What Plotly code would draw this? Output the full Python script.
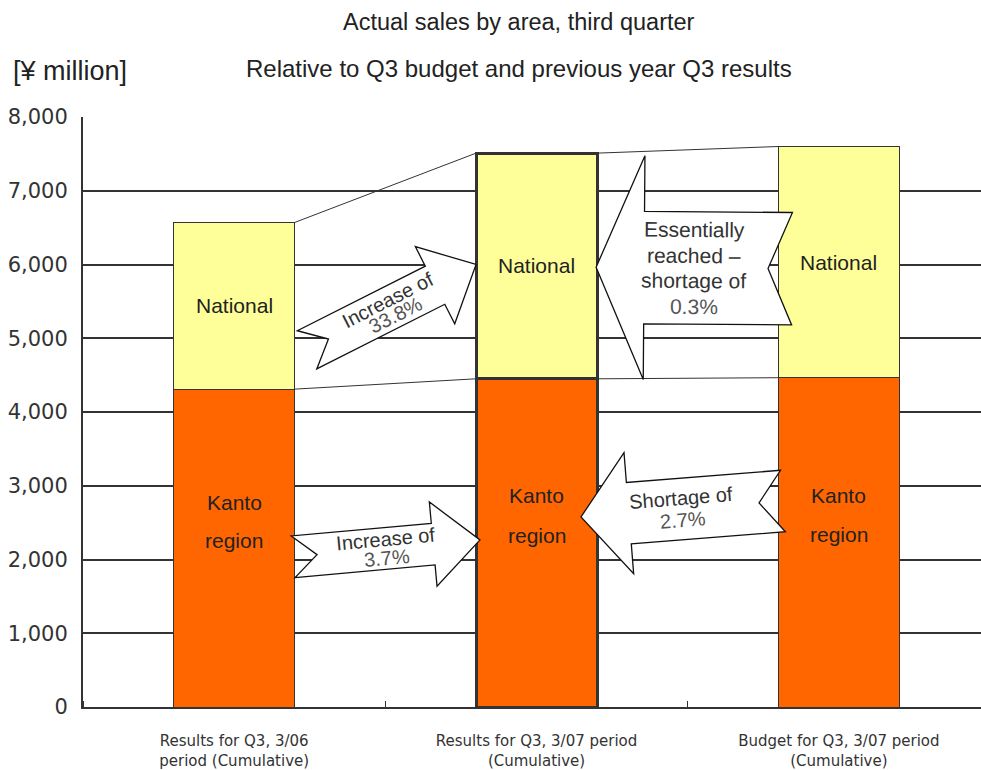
import math
import plotly.graph_objects as go

# ---- data (¥ million) ----
categories = [
    "Results for Q3, 3/06<br>period (Cumulative)",
    "Results for Q3, 3/07 period<br>(Cumulative)",
    "Budget for Q3, 3/07 period<br>(Cumulative)",
]
kanto = [4310, 4450, 4465]
national = [2260, 3060, 3135]
y_ticks = [0, 1000, 2000, 3000, 4000, 5000, 6000, 7000, 8000]
y_tick_text = ["0", "1,000", "2,000", "3,000", "4,000", "5,000", "6,000", "7,000", "8,000"]

# comparison arrows: (tail x, tail y, tip x, tip y, text lines)
arrow_inc_national = (0.241, 4843, 0.800, 6000, ["Increase of", "33.8%"])
arrow_inc_kanto = (0.195, 2037, 0.813, 2266, ["Increase of", "3.7%"])
arrow_short_national = (1.845, 5943, 1.197, 5963,
                        ["Essentially", "reached \u2013", "shortage of", "0.3%"])
arrow_short_kanto = (1.815, 2793, 1.147, 2577, ["Shortage of", "2.7%"])

# ---- layout geometry ----
W, H = 981, 770
ML, MR, MT, MB = 83, 0, 117, 60
X_RANGE = [-0.5, 2.47]
Y_RANGE = [0, 8000]
PW, PH = W - ML - MR, H - MT - MB
BAR_W = 0.4

KANTO_COLOR = "#FF6600"
NATIONAL_COLOR = "#FFFF99"
EDGE = "#333333"
FONT = "Liberation Sans, Arial, sans-serif"


def to_px(x, y):
    px = ML + (x - X_RANGE[0]) / (X_RANGE[1] - X_RANGE[0]) * PW
    py = MT + (Y_RANGE[1] - y) / (Y_RANGE[1] - Y_RANGE[0]) * PH
    return px, py


def to_data(px, py):
    x = X_RANGE[0] + (px - ML) / PW * (X_RANGE[1] - X_RANGE[0])
    y = Y_RANGE[1] - (py - MT) / PH * (Y_RANGE[1] - Y_RANGE[0])
    return x, y


def block_arrow(tx, ty, hx, hy, body_w, head_w, head_len, notch):
    """Notched block arrow from tail centre to tip, sized in screen pixels."""
    ax, ay = to_px(tx, ty)
    bx, by = to_px(hx, hy)
    dx, dy = bx - ax, by - ay
    L = math.hypot(dx, dy)
    ux, uy = dx / L, dy / L
    nx, ny = -uy, ux
    base = L - head_len
    pts = [
        (ax + nx * body_w / 2, ay + ny * body_w / 2),
        (ax + ux * base + nx * body_w / 2, ay + uy * base + ny * body_w / 2),
        (ax + ux * base + nx * head_w / 2, ay + uy * base + ny * head_w / 2),
        (bx, by),
        (ax + ux * base - nx * head_w / 2, ay + uy * base - ny * head_w / 2),
        (ax + ux * base - nx * body_w / 2, ay + uy * base - ny * body_w / 2),
        (ax - nx * body_w / 2, ay - ny * body_w / 2),
        (ax + ux * notch, ay + uy * notch),
    ]
    d = []
    for i, (px, py) in enumerate(pts):
        x, y = to_data(px, py)
        d.append(("M" if i == 0 else "L") + f"{x:.5f},{y:.3f}")
    return " ".join(d) + " Z"


def arrow_text(tx, ty, hx, hy, lines, size, spacing, shift=0.0):
    """Text lines centred on the arrow, rotated to read left-to-right."""
    ax, ay = to_px(tx, ty)
    bx, by = to_px(hx, hy)
    if bx < ax:
        ax, ay, bx, by = bx, by, ax, ay
    ang = math.degrees(math.atan2(by - ay, bx - ax))
    cx, cy = (ax + bx) / 2, (ay + by) / 2
    ux, uy = math.cos(math.radians(ang)), math.sin(math.radians(ang))
    nx, ny = -uy, ux
    cx += ux * shift
    cy += uy * shift
    anns = []
    n = len(lines)
    for i, line in enumerate(lines):
        off = (i - (n - 1) / 2) * spacing
        px, py = cx + nx * off, cy + ny * off
        x, y = to_data(px, py)
        is_pct = line.endswith("%")
        anns.append(dict(
            x=x, y=y, xref="x", yref="y", text=line, showarrow=False,
            textangle=ang, xanchor="center", yanchor="middle",
            font=dict(family=FONT, size=size, color="#555555" if is_pct else "#333333"),
        ))
    return anns


fig = go.Figure()

xs = list(range(len(categories)))
edge_w = [1, 3, 1]

fig.add_trace(go.Bar(
    x=xs, y=kanto, width=BAR_W, marker=dict(color=KANTO_COLOR, line=dict(color=EDGE, width=edge_w)),
    hoverinfo="skip", showlegend=False,
))
fig.add_trace(go.Bar(
    x=xs, y=national, width=BAR_W, marker=dict(color=NATIONAL_COLOR, line=dict(color=EDGE, width=edge_w)),
    hoverinfo="skip", showlegend=False,
))

# connector lines between neighbouring bars
totals = [k + n for k, n in zip(kanto, national)]
for i in range(len(xs) - 1):
    for series in (kanto, totals):
        fig.add_trace(go.Scatter(
            x=[xs[i] + BAR_W / 2, xs[i + 1] - BAR_W / 2], y=[series[i], series[i + 1]],
            mode="lines", line=dict(color=EDGE, width=1), hoverinfo="skip", showlegend=False,
        ))

shapes = []
annotations = []
arrow_specs = [
    (arrow_inc_national, 43, 87, 46, 24, 20, 17),
    (arrow_inc_kanto, 42, 85, 47, 24, 20, 19),
    (arrow_short_national, 113, 225, 48, 24, 21, 26),
    (arrow_short_kanto, 62, 122, 48, 24, 20, 23),
]
for (tx, ty, hx, hy, lines), bw, hw, hl, notch, fs, sp in arrow_specs:
    shapes.append(dict(
        type="path", xref="x", yref="y", path=block_arrow(tx, ty, hx, hy, bw, hw, hl, notch),
        fillcolor="white", line=dict(color="#111111", width=1.3), layer="above",
    ))
    annotations += arrow_text(tx, ty, hx, hy, lines, fs, sp)

# segment labels
LABEL_FONT = dict(family=FONT, size=21, color="#222222")
for i in xs:
    annotations.append(dict(
        x=i, y=kanto[i] + national[i] / 2, xref="x", yref="y", text="National",
        showarrow=False, font=LABEL_FONT,
    ))
    annotations.append(dict(
        x=i, y=kanto[i] * 0.643, xref="x", yref="y", text="Kanto",
        showarrow=False, font=LABEL_FONT,
    ))
    annotations.append(dict(
        x=i, y=kanto[i] * 0.523, xref="x", yref="y", text="region",
        showarrow=False, font=LABEL_FONT,
    ))

# titles and unit
annotations += [
    dict(x=(519 - ML) / PW, y=(H - MB - 22) / PH, xref="paper", yref="paper",
         text="Actual sales by area, third quarter", showarrow=False,
         xanchor="center", yanchor="middle", font=dict(family=FONT, size=23.5, color="#222222")),
    dict(x=(519 - ML) / PW, y=(H - MB - 68) / PH, xref="paper", yref="paper",
         text="Relative to Q3 budget and previous year Q3 results", showarrow=False,
         xanchor="center", yanchor="middle", font=dict(family=FONT, size=24, color="#222222")),
    dict(x=(11 - ML) / PW, y=(H - MB - 71) / PH, xref="paper", yref="paper",
         text="[\u00a5 million]", showarrow=False,
         xanchor="left", yanchor="middle", font=dict(family=FONT, size=27, color="#222222")),
]

fig.update_layout(
    width=W, height=H,
    margin=dict(l=ML, r=MR, t=MT, b=MB, pad=0),
    barmode="stack",
    plot_bgcolor="white", paper_bgcolor="white",
    shapes=shapes, annotations=annotations,
    showlegend=False,
    xaxis=dict(
        range=X_RANGE, tickvals=xs, ticktext=categories, ticks="",
        showgrid=False, zeroline=False, showline=True, linecolor=EDGE, linewidth=2,
        tickfont=dict(family="DejaVu Sans, Verdana, sans-serif", size=15, color="#333333"),
        ticklabelstandoff=19,
        minor=dict(ticks="inside", tick0=0.5, dtick=1, ticklen=6, tickcolor=EDGE, tickwidth=1, showgrid=False),
        fixedrange=True,
    ),
    yaxis=dict(
        range=Y_RANGE, tickvals=y_ticks, ticktext=y_tick_text, ticks="",
        showgrid=True, gridcolor=EDGE, gridwidth=1.6, zeroline=False,
        showline=True, linecolor=EDGE, linewidth=2,
        tickfont=dict(family="DejaVu Sans, Verdana, sans-serif", size=21, color="#333333"),
        ticklabelstandoff=9, fixedrange=True,
    ),
)

fig.write_html("out.html")
